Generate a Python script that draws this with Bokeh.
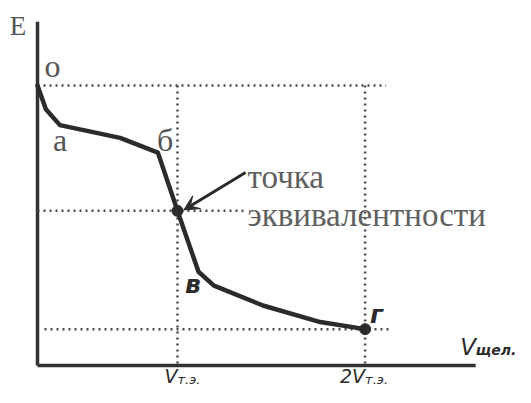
from bokeh.plotting import figure
from bokeh.models import Arrow, VeeHead, Range1d
from bokeh.core.properties import value
from bokeh.embed import file_html
from bokeh.resources import INLINE

# ---- data (sketch units: V in arbitrary volume units, E in arbitrary potential units)
v_te = 10.0          # equivalence volume
v_2te = 23.4         # double equivalence volume (as drawn)
e_start = 94.7       # point "о"
e_eq = 52.3          # equivalence point
e_end = 12.3         # point "г"

curve_v = [0.0, 0.6, 1.6, 5.9, 8.6, 10.0, 11.5, 12.6, 16.1, 20.2, 23.4]
curve_e = [94.7, 86.7, 81.3, 77.0, 72.0, 52.3, 31.7, 27.0, 20.3, 14.7, 12.3]

point_names = ["о", "а", "б", "в", "г"]
tick_main = ["V", "2V"]
tick_sub = ["т.э.", "т.э."]
axis_x_main = "V"
axis_x_sub = "щел."
axis_y_label = "E"
eq_label = ["точка", "эквивалентности"]

axis_x_end = 31.3
axis_y_end = 116.3

p = figure(width=515, height=387, output_backend="svg", toolbar_location=None,
           x_axis_type=None, y_axis_type=None, min_border=0,
           x_range=Range1d(-2.643, 34.143), y_range=Range1d(-7.44, 123.45))
p.outline_line_color = None
p.grid.visible = False
p.background_fill_color = "white"

ink = "#2b2b2b"
dots = "#4a4a4a"

# axes
p.segment(x0=[0, 0], y0=[0, 0], x1=[0, axis_x_end], y1=[axis_y_end, 0],
          line_color="#333333", line_width=3.5)

# dotted guide lines
p.segment(x0=[0, 0, 0.5], y0=[e_start, e_eq, e_end],
          x1=[24.9, 14.9, 25.1], y1=[e_start, e_eq, e_end],
          line_color=dots, line_width=2.5, line_dash="2 4")
p.segment(x0=[v_te, v_2te], y0=[e_start, e_start], x1=[v_te, v_2te], y1=[0, 0],
          line_color=dots, line_width=2.5, line_dash="2 4")

# titration curve
p.line(curve_v, curve_e, line_color=ink, line_width=4.5, line_join="round", line_cap="round")
p.scatter([v_te, v_2te], [e_eq, e_end], size=11, color=ink)

# arrow to equivalence point
p.add_layout(Arrow(end=VeeHead(size=15, line_color=ink, fill_color=ink, line_width=1),
                   x_start=14.86, y_start=65.3, x_end=10.45, y_end=52.6,
                   line_color=ink, line_width=3))

serif = value("Liberation Serif")
hand = value("DejaVu Sans")

# serif labels
p.text(x=[-1.39], y=[114.9], text=[axis_y_label], text_font=serif, text_font_size="27px",
       text_color="#555555", text_align="center", text_baseline="alphabetic")
p.text(x=[1.07, 1.61, 9.11], y=[101.4, 76.1, 76.1], text=point_names[:3], text_font=serif,
       text_font_size="32px", text_color="#555555", text_align="center",
       text_baseline="alphabetic")
p.text(x=[15.0, 15.0], y=[63.6, 50.9], text=eq_label, text_font=serif,
       text_font_size="33px", text_color="#606060", text_align="left",
       text_baseline="alphabetic")

# handwritten-style labels
p.text(x=[11.1, 24.21], y=[27.4, 17.2], text=point_names[3:], text_font=hand,
       text_font_size="25px", text_font_style="bold italic", text_color=ink,
       text_align="center", text_baseline="alphabetic")
p.text(x=[30.2], y=[6.2], text=[axis_x_main], text_font=hand, text_font_size="23px",
       text_font_style="italic", text_color=ink, text_align="left",
       text_baseline="alphabetic")
p.text(x=[31.3], y=[5.3], text=[axis_x_sub], text_font=hand, text_font_size="14px",
       text_font_style="bold italic", text_color=ink, text_align="left",
       text_baseline="alphabetic")
p.text(x=[v_te, v_2te], y=[-7.2, -7.2], text=tick_main, text_font=hand,
       text_font_size="19px", text_font_style="italic", text_color=ink,
       text_align="right", text_baseline="bottom")
p.text(x=[v_te, v_2te], y=[-7.2, -7.2], text=tick_sub, text_font=hand,
       text_font_size="13px", text_font_style="italic", text_color=ink,
       text_align="left", text_baseline="bottom")

open("out.html", "w").write(file_html(p, INLINE))
